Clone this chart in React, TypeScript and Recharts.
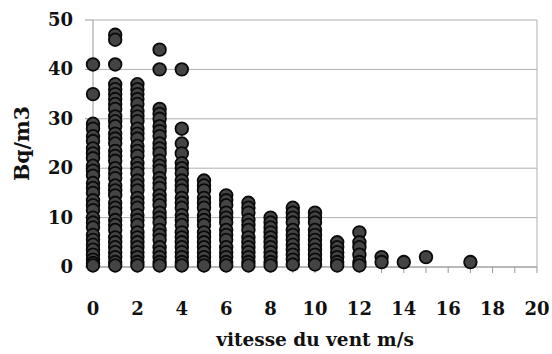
import React from "react";
import {
  ScatterChart,
  Scatter,
  XAxis,
  YAxis,
  ZAxis,
  CartesianGrid,
  ReferenceLine,
  Label,
} from "recharts";

// Radon concentration (Bq/m3) observed at each wind speed (m/s)
const speed0 = [41, 35, 29, 28, 26.5, 25.5, 24, 23, 22, 20.5, 19.5, 18.5, 17, 16, 15, 13.5, 12.5, 11.5, 10, 9, 8, 6.5, 5.5, 4.5, 3.5, 2.5, 1.5, 0.8, 0.3];
const speed1 = [47, 46, 41, 37, 36, 35, 34, 33, 32, 30.5, 29.5, 28.5, 27, 26, 25, 23.5, 22.5, 21.5, 20, 19, 18, 16.5, 15.5, 14.5, 13, 12, 11, 9.5, 8.5, 7.5, 6, 5, 4, 3, 2, 1, 0.3];
const speed2 = [37, 36, 35, 34, 33, 31.5, 30.5, 29.5, 28, 27, 26, 24.5, 23.5, 22.5, 21, 20, 19, 17.5, 16.5, 15.5, 14, 13, 12, 10.5, 9.5, 8.5, 7, 6, 5, 4, 3, 2, 1, 0.3];
const speed3 = [44, 40, 32, 31, 30, 28.5, 27.5, 26.5, 25, 24, 23, 21.5, 20.5, 19.5, 18, 17, 16, 14.5, 13.5, 12.5, 11, 10, 9, 7.5, 6.5, 5.5, 4, 3, 2, 1, 0.3];
const speed4 = [40, 28, 25, 23, 21, 20, 19, 17.5, 16.5, 15.5, 14, 13, 12, 10.5, 9.5, 8.5, 7, 6, 5, 4, 3, 2, 1, 0.3];
const speed5 = [17.5, 16.5, 15.5, 14, 13, 12, 10.5, 9.5, 8.5, 7, 6, 5, 4, 3, 2, 1, 0.3];
const speed6 = [14.5, 13.5, 12.5, 11, 10, 9, 7.5, 6.5, 5.5, 4, 3, 2, 1, 0.3];
const speed7 = [13, 12, 11, 9.5, 8.5, 7.5, 6, 5, 4, 3, 2, 1, 0.3];
const speed8 = [10, 9, 8, 7, 6, 5, 4, 3, 2, 1, 0.3];
const speed9 = [12, 11, 10, 9, 7.5, 6.5, 5.5, 4.5, 3.5, 2.5, 1.5, 0.5];
const speed10 = [11, 10, 9, 7.5, 6.5, 5.5, 4.5, 3.5, 2.5, 1.5, 0.5];
const speed11 = [5, 4, 3, 2, 1, 0.3];
const speed12 = [7, 5, 4, 2.5, 1, 0.3];
const speed13 = [2, 1];
const speed14 = [1];
const speed15 = [2];
const speed17 = [1];

const windSpeeds = [0, 1, 2, 3, 4, 5, 6, 7, 8, 9, 10, 11, 12, 13, 14, 15, 17];
const concentrations = [
  speed0, speed1, speed2, speed3, speed4, speed5, speed6, speed7, speed8,
  speed9, speed10, speed11, speed12, speed13, speed14, speed15, speed17,
];

const xTicks = [0, 1, 2, 3, 4, 5, 6, 7, 8, 9, 10, 11, 12, 13, 14, 15, 16, 17, 18, 19, 20];
const yTicks = [0, 10, 20, 30, 40, 50];

const data = windSpeeds.flatMap((x, i) => concentrations[i].map((y) => ({ x, y })));

const FONT = "'DejaVu Serif', serif";
const TEXT_COLOR = "#111";

const XTick = (props: any) => {
  const { x, y, payload } = props;
  if (payload.value % 2 !== 0) return null;
  return (
    <text x={x} y={y} dy={14} textAnchor="middle" fontFamily={FONT} fontWeight="bold" fontSize={18} fill={TEXT_COLOR}>
      {payload.value}
    </text>
  );
};

const YTick = (props: any) => {
  const { x, y, payload } = props;
  return (
    <text x={x} y={y} dy={6} textAnchor="end" fontFamily={FONT} fontWeight="bold" fontSize={18} fill={TEXT_COLOR}>
      {payload.value}
    </text>
  );
};

const Dot = (props: any) => {
  const { cx, cy } = props;
  return <circle cx={cx} cy={cy} r={6.3} fill="#444" stroke="#0a0a0a" strokeWidth={1.8} />;
};

export default function App() {
  return (
    <div style={{ position: "absolute", left: 0, top: 0, background: "#fff" }}>
      <ScatterChart width={552} height={354} margin={{ top: 20, right: 15, left: 0, bottom: 0 }}>
        <CartesianGrid vertical={false} stroke="#b0b0b0" />
        <XAxis
          type="number"
          dataKey="x"
          domain={[0, 20]}
          ticks={xTicks}
          interval={0}
          height={87}
          tickSize={6}
          tickMargin={28}
          stroke="#999"
          tick={<XTick />}
        >
          <Label
            content={(p: any) => (
              <text
                x={p.viewBox.x + p.viewBox.width / 2}
                y={p.viewBox.y + 79}
                textAnchor="middle"
                fontFamily={FONT}
                fontWeight="bold"
                fontSize={18.5}
                fill={TEXT_COLOR}
              >
                vitesse du vent m/s
              </text>
            )}
          />
        </XAxis>
        <YAxis
          type="number"
          dataKey="y"
          domain={[0, 50]}
          ticks={yTicks}
          width={93}
          tickSize={8}
          tickMargin={12}
          stroke="#999"
          tick={<YTick />}
        >
          <Label
            content={(p: any) => {
              const cx = 22;
              const cy = p.viewBox.y + p.viewBox.height / 2;
              return (
                <text
                  x={cx}
                  y={cy}
                  transform={`rotate(-90 ${cx} ${cy})`}
                  textAnchor="middle"
                  dominantBaseline="central"
                  fontFamily={FONT}
                  fontWeight="bold"
                  fontSize={20.5}
                  fill={TEXT_COLOR}
                >
                  Bq/m3
                </text>
              );
            }}
          />
        </YAxis>
        <ZAxis range={[130, 130]} />
        <ReferenceLine x={20} stroke="#b0b0b0" />
        <Scatter data={data} isAnimationActive={false} shape={<Dot />} />
      </ScatterChart>
    </div>
  );
}
